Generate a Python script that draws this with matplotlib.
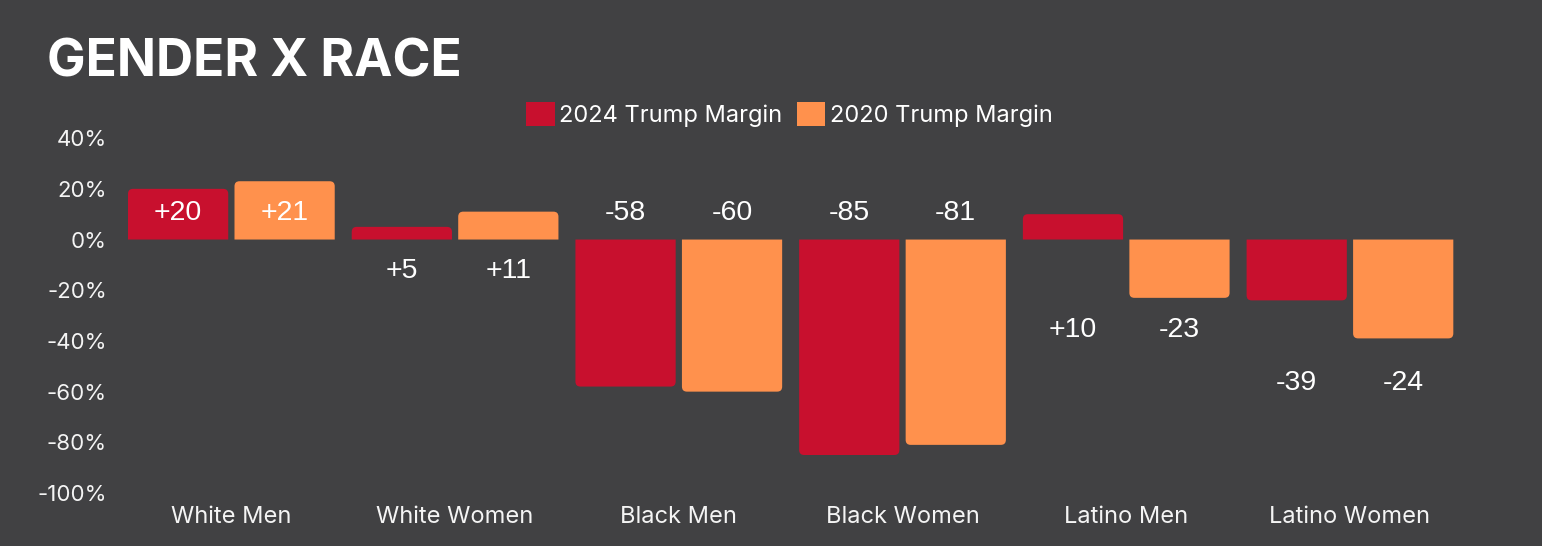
import numpy as np
import matplotlib.pyplot as plt
from matplotlib.patches import PathPatch, Patch
from matplotlib.path import Path

# values
categories = ["White Men", "White Women", "Black Men", "Black Women", "Latino Men", "Latino Women"]
margin_2024 = [20, 5, -58, -85, 10, -24]
margin_2020 = [23, 11, -60, -81, -23, -39]
# the slide's printed labels (not always equal to the bar heights)
labels_2024 = ["+20", "+5", "-58", "-85", "+10", "-39"]
labels_2020 = ["+21", "+11", "-60", "-81", "-23", "-24"]
yticks = [40, 20, 0, -20, -40, -60, -80, -100]

# layout: where each group's labels sit on the y axis
label_y = [10.3, -12.5, 10.3, 10.3, -35.5, -56.5]

BG = "#414143"
RED = "#c8102e"
ORANGE = "#ff914d"
TXT = "#f4f4f4"


def round_bars(ax, bars, radius_px=5):
    """Swap plain bars for one-piece shapes rounded at the far end."""
    box = ax.get_window_extent()
    x0, x1 = ax.get_xlim()
    y0, y1 = ax.get_ylim()
    rx = radius_px * (x1 - x0) / box.width
    ry = radius_px * (y1 - y0) / box.height
    for bar in bars:
        x, y = bar.get_x(), bar.get_y()
        w, h = bar.get_width(), bar.get_height()
        color = bar.get_facecolor()
        bar.set_visible(False)
        top = y + h
        s = 1 if h >= 0 else -1
        verts = [(x, y), (x, top - s * ry), (x, top), (x + rx, top),
                 (x + w - rx, top), (x + w, top), (x + w, top - s * ry),
                 (x + w, y), (x, y)]
        codes = [Path.MOVETO, Path.LINETO, Path.CURVE3, Path.CURVE3,
                 Path.LINETO, Path.CURVE3, Path.CURVE3,
                 Path.LINETO, Path.CLOSEPOLY]
        ax.add_patch(PathPatch(Path(verts, codes), fc=color, ec="none"))


fig = plt.figure(figsize=(15.42, 5.46), dpi=100, facecolor=BG)
ax = fig.add_axes([0.0775, 0.097, 0.8705, 0.65])
ax.set_facecolor(BG)

x = np.arange(len(categories))
off = 0.238
width = 0.448

ax.set_xlim(-0.5, len(categories) - 0.5)
ax.set_ylim(-100, 40)

b1 = ax.bar(x - off, margin_2024, width, color=RED)
b2 = ax.bar(x + off, margin_2020, width, color=ORANGE)
round_bars(ax, b1)
round_bars(ax, b2)

for i in range(len(categories)):
    ax.text(x[i] - off, label_y[i], labels_2024[i], ha="center", va="center",
            fontsize=20.5, color="white", family="Liberation Sans")
    ax.text(x[i] + off, label_y[i], labels_2020[i], ha="center", va="center",
            fontsize=20.5, color="white", family="Liberation Sans")

ax.set_xticks(x)
ax.set_xticklabels(categories, fontsize=17, color=TXT, family="Inter")
ax.set_yticks(yticks)
ax.set_yticklabels([f"{v}%" for v in yticks], fontsize=16, color=TXT, family="Inter")
ax.tick_params(axis="both", length=0)
ax.tick_params(axis="x", pad=9)
ax.tick_params(axis="y", pad=9)
for s in ax.spines.values():
    s.set_visible(False)

fig.text(0.0305, 0.859, "GENDER X RACE", fontsize=37, fontweight="bold",
         family="Inter", color="white", va="baseline")

handles = [Patch(fc=RED, ec="none"), Patch(fc=ORANGE, ec="none")]
fig.legend(handles, ["2024 Trump Margin", "2020 Trump Margin"], loc="center",
           bbox_to_anchor=(0.512, 0.791), ncol=2, frameon=False,
           prop={"family": "Inter", "size": 17}, labelcolor="white",
           handlelength=1.2, handleheight=1.2, handletextpad=0.2,
           columnspacing=0.6)

fig.savefig("out.png", dpi=100, facecolor=BG)
